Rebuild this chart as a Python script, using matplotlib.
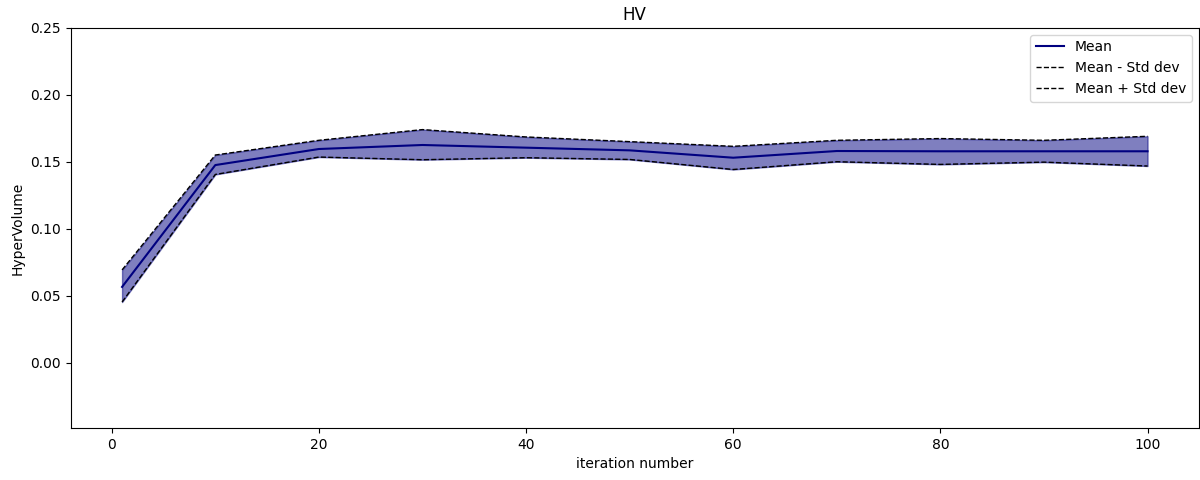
import numpy as np
import matplotlib
matplotlib.use("Agg")
import matplotlib.pyplot as plt

iterations = [1, 10, 20, 30, 40, 50, 60, 70, 80, 90, 100]
hv_mean = [0.0565, 0.1475, 0.1595, 0.1625, 0.1605, 0.1585, 0.1530, 0.1580, 0.1578, 0.1578, 0.1578]
hv_upper = [0.0692, 0.1550, 0.1660, 0.1740, 0.1685, 0.1650, 0.1615, 0.1660, 0.1673, 0.1660, 0.1690]
hv_lower = [0.0452, 0.1405, 0.1535, 0.1515, 0.1530, 0.1517, 0.1442, 0.1500, 0.1480, 0.1497, 0.1468]

fig, ax = plt.subplots(figsize=(12, 4.8), dpi=100)
fig.subplots_adjust(left=0.059, right=0.999, top=0.942, bottom=0.108)

ax.plot(iterations, hv_mean, color="navy", label="Mean")
ax.plot(iterations, hv_lower, color="black", linestyle="--", linewidth=1, label="Mean - Std dev")
ax.plot(iterations, hv_upper, color="black", linestyle="--", linewidth=1, label="Mean + Std dev")
ax.fill_between(iterations, hv_lower, hv_upper, color="navy", alpha=0.5)

ax.set_ylim(-0.049, 0.25)
ax.set_yticks(np.arange(0, 0.26, 0.05))
ax.set_title("HV")
ax.set_xlabel("iteration number")
ax.set_ylabel("HyperVolume")
ax.legend(loc="upper right")

fig.savefig("out.png")
